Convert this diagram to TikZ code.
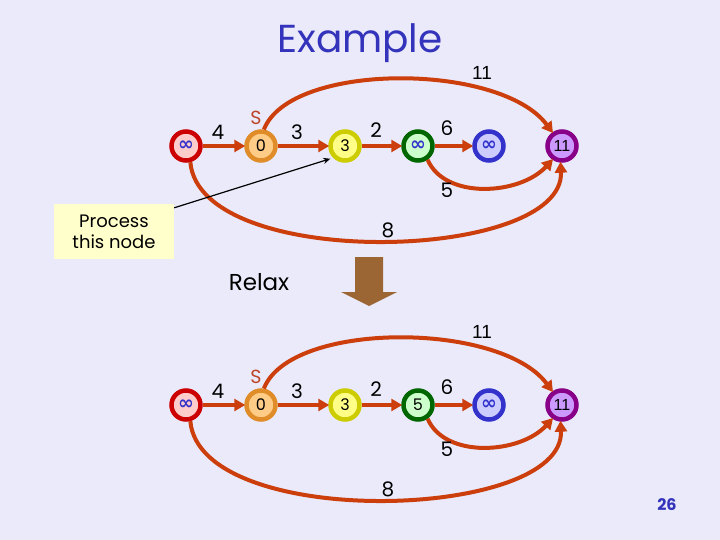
\documentclass[tikz,border=0pt]{standalone}
\usepackage{fontspec}
\setmainfont{Poppins}
\newfontfamily\narrowf{Liberation Sans}
\newfontfamily\symf{DejaVu Sans}
\usetikzlibrary{arrows.meta}
\definecolor{bg}{RGB}{234,234,250}
\definecolor{ec}{RGB}{204,62,12}
\definecolor{titleblue}{RGB}{51,51,187}
\definecolor{rc}{RGB}{204,0,0}\definecolor{rf}{RGB}{255,204,204}
\definecolor{oc}{RGB}{224,140,40}\definecolor{of}{RGB}{255,204,136}
\definecolor{yc}{RGB}{204,204,0}\definecolor{yf}{RGB}{255,255,136}
\definecolor{gc}{RGB}{0,102,0}\definecolor{gf}{RGB}{204,255,204}
\definecolor{bc}{RGB}{51,51,204}\definecolor{bf}{RGB}{204,204,255}
\definecolor{pc}{RGB}{136,0,136}\definecolor{pf}{RGB}{204,153,255}
\definecolor{sc}{RGB}{190,70,40}
\definecolor{boxy}{RGB}{255,255,204}
\definecolor{brown}{RGB}{155,102,51}
\newcommand\inft{{\color{bc}\symf\bfseries\fontsize{19}{19}\selectfont ∞}}
\newcommand\graphrow[2]{%
  \node[vnode,draw=rc,fill=rf] (#1a) at (186,146) {\inft};
  \node[vnode,draw=oc,fill=of] (#1s) at (261,146) {0};
  \node[vnode,draw=yc,fill=yf] (#1c) at (345,146) {3};
  \node[vnode,draw=gc,fill=gf] (#1d) at (418,146) {#2};
  \node[vnode,draw=bc,fill=bf] (#1e) at (489,146) {\inft};
  \node[vnode,draw=pc,fill=pf] (#1f) at (562,146) {\narrowf 11};
  \draw[edge] (#1a) -- (#1s);
  \draw[edge] (#1s) -- (#1c);
  \draw[edge] (#1c) -- (#1d);
  \draw[edge] (#1d) -- (#1e);
  \draw[edge] (#1s.80) .. controls (290,62) and (500,62) .. (#1f.125);
  \draw[edge] (#1d.-55) .. controls (445,200) and (520,195) .. (#1f.-125);
  \draw[edge] (#1a.-75) .. controls (200,272) and (565,262) .. (#1f.-95);
  \node[elab] (#1l4) at (218,132) {4};
  \node[elab] (#1l3) at (297,132) {3};
  \node[elab] (#1l2) at (376,130) {2};
  \node[elab] (#1l6) at (447,128) {6};
  \node[elab] (#1l5) at (447,190) {5};
  \node[elab] (#1l8) at (388,230) {8};
  \node[font=\narrowf\fontsize{19}{19}\selectfont] (#1l11) at (482,73) {11};
  \node[font=\fontsize{19}{19}\selectfont,text=sc] (#1ls) at (256,118) {S};
}
\begin{document}
\begin{tikzpicture}[x=1pt,y=-1pt,
  vnode/.style={circle,line width=4.5pt,minimum size=29pt,inner sep=0pt,font=\fontsize{16}{16}\selectfont},
  edge/.style={draw=ec,line width=4pt,-{Triangle[length=11pt,width=12pt]},shorten >=-1pt},
  elab/.style={font=\fontsize{20}{20}\selectfont}]
\useasboundingbox (0,0) rectangle (720,540);
\fill[bg] (0,0) rectangle (720,540);
\node[text=titleblue,font=\fontsize{39}{39}\selectfont] (title) at (360,43) {Example};
\graphrow{t}{\inft}
\begin{scope}[yshift=-259pt]
\graphrow{b}{5}
\end{scope}
\node[fill=boxy,minimum width=120pt,minimum height=55pt,align=center,inner sep=0pt,
  font=\fontsize{18}{21}\selectfont] (pbox) at (114,231.5) {Process\\this node};
\draw[black,line width=1.2pt,-{Stealth[length=7pt,width=6pt]},shorten >=3pt]
  ([yshift=-4pt]pbox.north east) -- (tc.south west);
\node[font=\fontsize{23}{23}\selectfont] (relax) at (259,282) {Relax};
\fill[brown] (355,257) -- (383,257) -- (383,292) -- (397,292) -- (369,306) -- (341,292) -- (355,292) -- cycle;
\node[text=titleblue,font=\fontsize{16}{16}\selectfont\bfseries] (pg) at (667,505) {26};
\end{tikzpicture}
\end{document}
